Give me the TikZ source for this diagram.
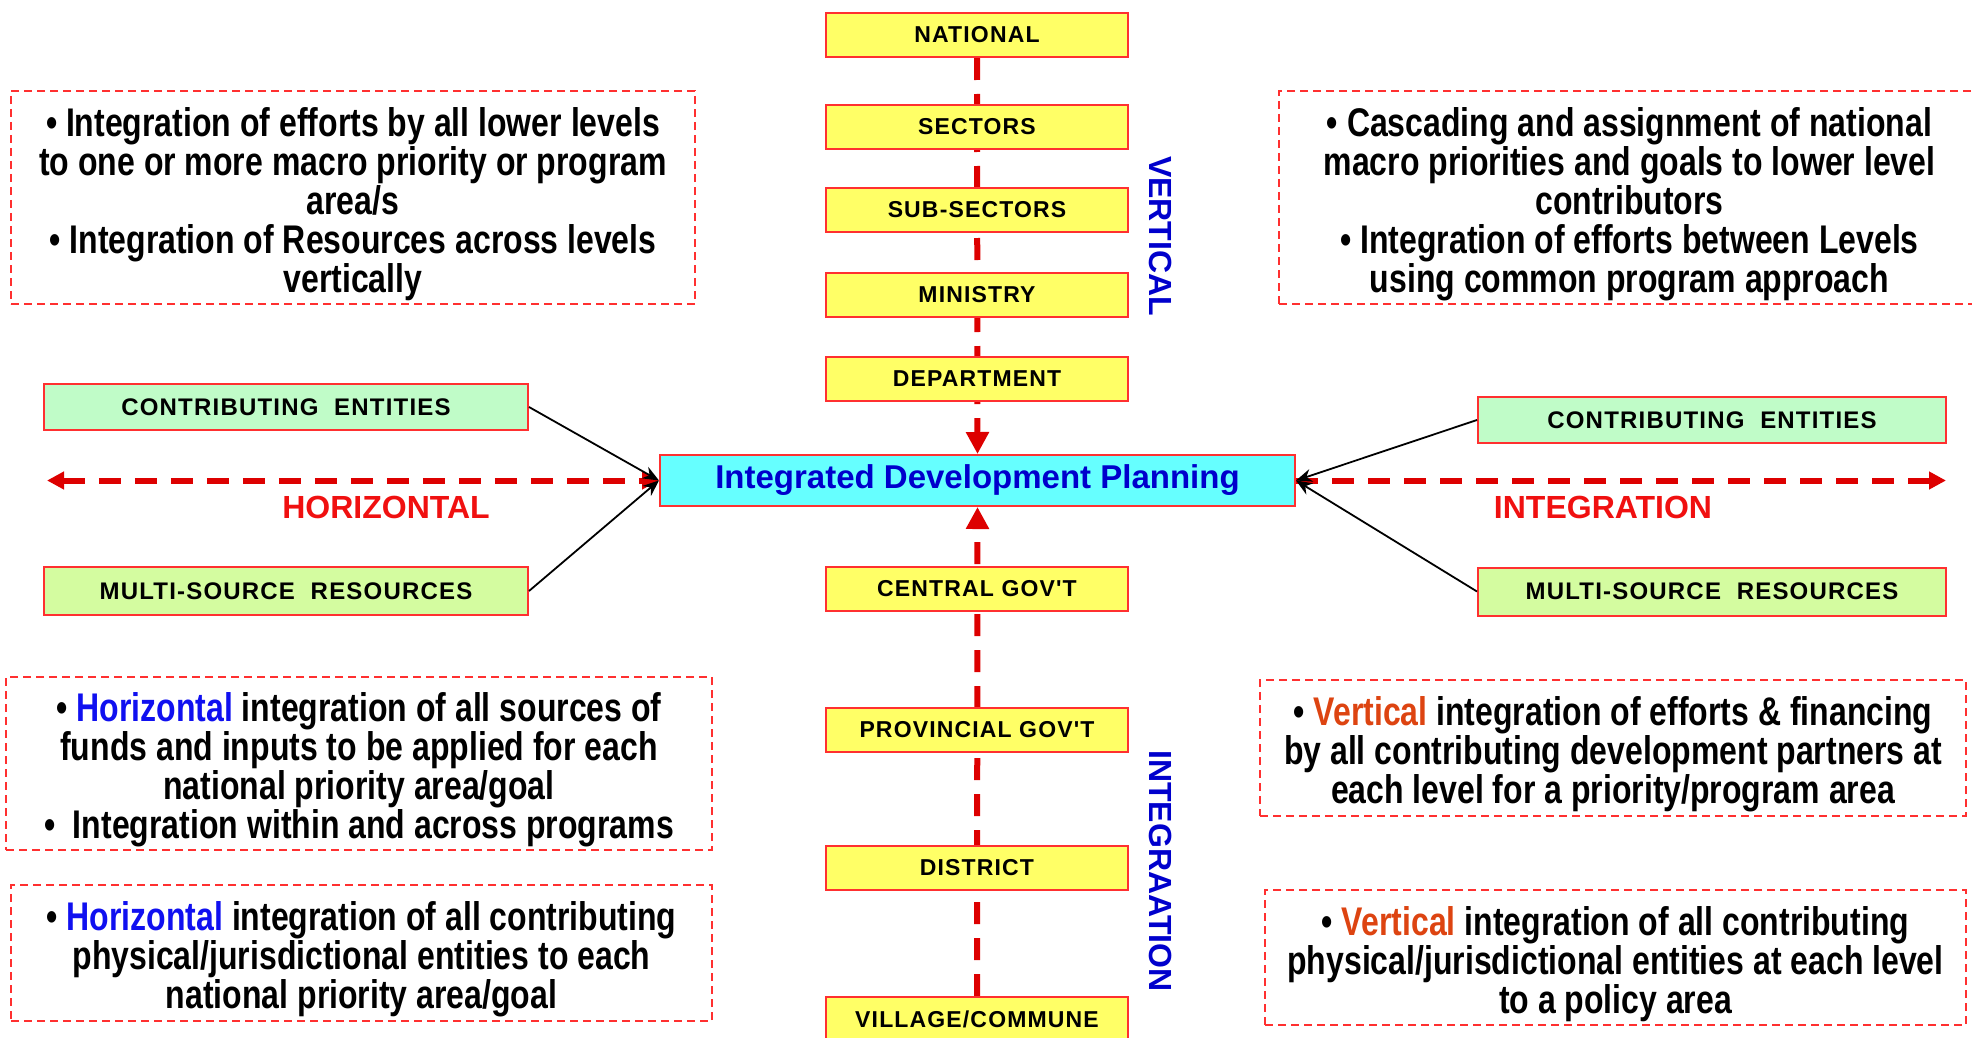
\documentclass[tikz,border=0pt]{standalone}
\usepackage{fontspec}
\setmainfont{Liberation Sans}
\newfontfamily\lblfont{Liberation Sans}[LetterSpace=5]
\newfontfamily\notefont{Liberation Sans}[FakeStretch=0.8]
\usetikzlibrary{arrows.meta,backgrounds}

\definecolor{lvlyellow}{HTML}{FFFF66}
\definecolor{entgreen}{HTML}{C0FCC8}
\definecolor{resgreen}{HTML}{D4FCA0}
\definecolor{idpcyan}{HTML}{66FFFF}
\definecolor{boxred}{HTML}{FF3030}
\definecolor{flowred}{HTML}{DD0000}
\definecolor{tagred}{HTML}{F01010}
\definecolor{darkblue}{HTML}{0000CC}
\definecolor{hblue}{HTML}{1010F0}
\definecolor{vorange}{HTML}{DD4411}

\newcommand\notestrut{\rule{0pt}{42pt}}

\tikzset{
  lvl/.style={draw=boxred, line width=2pt, fill=lvlyellow, minimum width=302pt, minimum height=44pt, inner sep=0pt, font=\lblfont\bfseries\fontsize{23}{26}\selectfont},
  ent/.style={draw=boxred, line width=2pt, minimum height=46pt, inner sep=0pt, font=\lblfont\bfseries\fontsize{24}{27}\selectfont},
  notebox/.style={draw=boxred, line width=2pt, dash pattern=on 8pt off 5pt, align=center, inner sep=0pt, font=\notefont\bfseries\fontsize{40}{39}\selectfont},
  flow/.style={draw=flowred, line width=6pt, dash pattern=on 22pt off 14pt},
  feed/.style={draw=black, line width=1.8pt, -{Stealth[length=16pt,width=13pt]}},
  tag/.style={font=\bfseries\fontsize{32}{36}\selectfont}
}

\begin{document}
\begin{tikzpicture}[x=1pt,y=-1pt]
                \useasboundingbox (0,0) rectangle (1972,1038);
                \node[lvl] (nat) at (977,35) {NATIONAL};
                \node[lvl] (sec) at (977,127) {SECTORS};
                \node[lvl] (sub) at (977,210) {SUB-SECTORS};
                \node[lvl] (min) at (977,294.5) {MINISTRY};
                \node[lvl] (dep) at (977,378.5) {DEPARTMENT};
                \node[lvl] (cgov) at (977,589) {CENTRAL GOV'T};
                \node[lvl] (pgov) at (977,729.5) {PROVINCIAL GOV'T};
                \node[lvl] (dist) at (977,867.5) {DISTRICT};
                \node[lvl] (vill) at (977,1019) {VILLAGE/COMMUNE};
                \node[draw=boxred, line width=2pt, fill=idpcyan, minimum width=635pt, minimum height=51pt, text=darkblue, font=\bfseries\fontsize{33}{36}\selectfont] (idp) at (977.5,480.5) {Integrated Development Planning};
                \node[ent, fill=entgreen, minimum width=484pt] (lent) at (286,407) {CONTRIBUTING\ \ ENTITIES};
                \node[ent, fill=resgreen, minimum width=484pt, minimum height=48pt] (lres) at (286,591) {MULTI-SOURCE\ \ RESOURCES};
                \node[ent, fill=entgreen, minimum width=468pt] (rent) at (1712,420) {CONTRIBUTING\ \ ENTITIES};
                \node[ent, fill=resgreen, minimum width=468pt, minimum height=48pt] (rres) at (1712,591.5) {MULTI-SOURCE\ \ RESOURCES};
                \coordinate (hl) at (47,480.5);
                \coordinate (hr) at (1946,480.5);
                \begin{scope}[on background layer]
                    \draw[flow, -{Triangle[length=22pt,width=22pt]}] (nat.south) -- (idp.north);
                    \draw[flow, -{Triangle[length=22pt,width=22pt]}] (vill.north) -- (idp.south);
                \end{scope}
                \draw[flow, {Triangle[length=17pt,width=17pt]}-{Triangle[length=17pt,width=17pt]}] (hl) -- (idp.west);
                \draw[flow, -{Triangle[length=17pt,width=17pt]}] (idp.east) -- (hr);
                \draw[feed] (lent.east) -- (idp.west);
                \draw[feed] (lres.east) -- (idp.west);
                \draw[feed] (rent.west) -- (idp.east);
                \draw[feed] (rres.west) -- (idp.east);
                \node[tag, text=tagred] (htag) at (386,507) {HORIZONTAL};
                \node[tag, text=tagred] (itag) at (1603,507) {INTEGRATION};
                \node[tag, text=darkblue, rotate=-90] (vtag) at (1160,236) {VERTICAL};
                \node[tag, text=darkblue, rotate=-90] (ntag) at (1160,871) {INTEGRAATION};
                \node[notebox, minimum width=684pt, minimum height=213pt] (tl) at (353,197.5) {\notestrut• Integration of efforts by all lower levels\\ to one or more macro priority or program\\ area/s\\ • Integration of Resources across levels\\ vertically};
                \node[notebox, minimum width=701pt, minimum height=213pt] (tr) at (1629.5,197.5) {\notestrut• Cascading and assignment of national\\ macro priorities and goals to lower level\\ contributors\\ • Integration of efforts between Levels\\ using common program approach};
                \node[notebox, minimum width=706pt, minimum height=173pt] (ml) at (359,763.5) {\notestrut• \textcolor{hblue}{Horizontal} integration of all sources of\\ funds and inputs to be applied for each\\ national priority area/goal\\ •\ \ Integration within and across programs};
                \node[notebox, minimum width=701pt, minimum height=136pt] (bl) at (361.5,953) {\notestrut• \textcolor{hblue}{Horizontal} integration of all contributing\\ physical/jurisdictional entities to each\\ national priority area/goal};
                \node[notebox, minimum width=706pt, minimum height=136pt] (mr) at (1613,748) {\notestrut• \textcolor{vorange}{Vertical} integration of efforts \& financing\\ by all contributing development partners at\\ each level for a priority/program area};
                \node[notebox, minimum width=701pt, minimum height=135pt] (br) at (1615.5,957.5) {\notestrut• \textcolor{vorange}{Vertical} integration of all contributing\\ physical/jurisdictional entities at each level\\ to a policy area};
\end{tikzpicture}
\end{document}
